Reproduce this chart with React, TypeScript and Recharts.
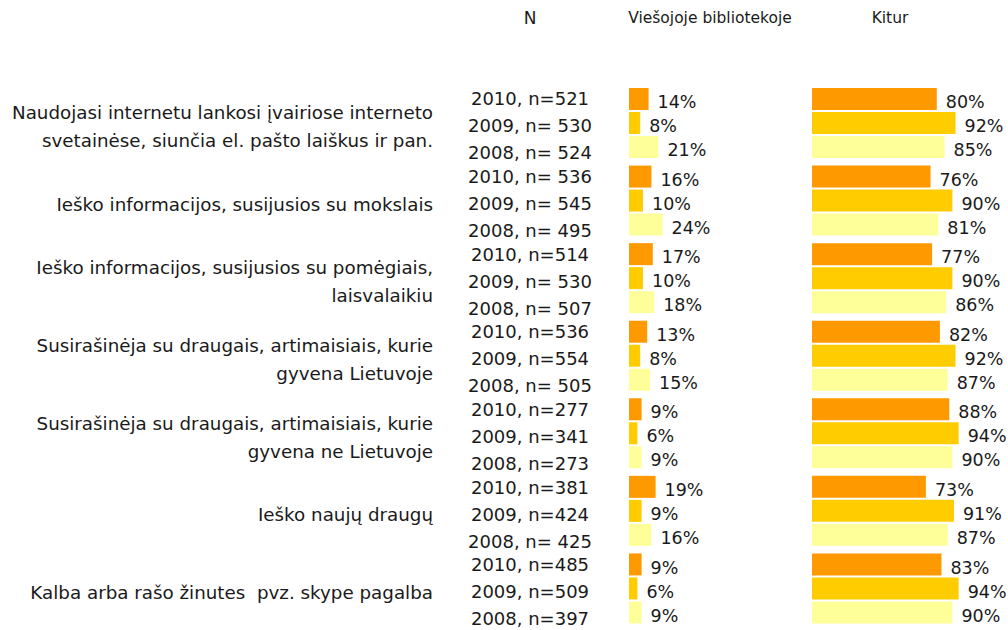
import { BarChart, Bar, XAxis, YAxis, LabelList } from "recharts";

// categories (top to bottom)
const categories = [
    "Naudojasi internetu lankosi įvairiose interneto\nsvetainėse, siunčia el. pašto laiškus ir pan.",
    "Ieško informacijos, susijusios su mokslais",
    "Ieško informacijos, susijusios su pomėgiais,\nlaisvalaikiu",
    "Susirašinėja su draugais, artimaisiais, kurie\ngyvena Lietuvoje",
    "Susirašinėja su draugais, artimaisiais, kurie\ngyvena ne Lietuvoje",
    "Ieško naujų draugų",
    "Kalba arba rašo žinutes  pvz. skype pagalba",
];

// sample sizes, per category: 2010, 2009, 2008
const nLabels = [
    ["2010, n=521", "2009, n= 530", "2008, n= 524"],
    ["2010, n= 536", "2009, n= 545", "2008, n= 495"],
    ["2010, n=514", "2009, n= 530", "2008, n= 507"],
    ["2010, n=536", "2009, n=554", "2008, n= 505"],
    ["2010, n=277", "2009, n=341", "2008, n=273"],
    ["2010, n=381", "2009, n=424", "2008, n= 425"],
    ["2010, n=485", "2009, n=509", "2008, n=397"],
];

// Viešojoje bibliotekoje (%)
const lib2010 = [14, 16, 17, 13, 9, 19, 9];
const lib2009 = [8, 10, 10, 8, 6, 9, 6];
const lib2008 = [21, 24, 18, 15, 9, 16, 9];

// Kitur (%)
const kit2010 = [80, 76, 77, 82, 88, 73, 83];
const kit2009 = [92, 90, 90, 92, 94, 91, 94];
const kit2008 = [85, 81, 86, 87, 90, 87, 90];

const headers = { n: "N", lib: "Viešojoje bibliotekoje", kit: "Kitur" };

const data = categories.map((cat, i) => ({
    cat,
    lib2010: lib2010[i],
    lib2009: lib2009[i],
    lib2008: lib2008[i],
    kit2010: kit2010[i],
    kit2009: kit2009[i],
    kit2008: kit2008[i],
}));

const FONT = "'DejaVu Sans', Verdana, sans-serif";
const TEXT = "#1a1a1a";
const C2010 = "#FF9900";
const C2009 = "#FFCC00";
const C2008 = "#FFFF99";

const MARGIN = { top: 84, bottom: 3, left: 0, right: 0 };
const BAR = 22;

const labelStyle = { fontSize: 17.5, fill: TEXT, fontFamily: FONT };
const pct = (v: any) => `${v}%`;

function LeftTick(props: any) {
    const { y, index } = props;
    const lines = categories[index].split("\n");
    const lh = 28;
    const startY = y + 4 - ((lines.length - 1) * lh) / 2;
    return (
        <g>
            {lines.map((l, k) => (
                <text key={k} x={433} y={startY + k * lh} textAnchor="end" dominantBaseline="central"
                    fontSize={18.3} fill={TEXT} fontFamily={FONT} style={{ whiteSpace: "pre" }}>
                    {l}
                </text>
            ))}
            {nLabels[index].map((l, j) => (
                <text key={"n" + j} x={530} y={y - 24 + 0.1 * index + 27 * j} textAnchor="middle"
                    dominantBaseline="central" fontSize={18} fill={TEXT} fontFamily={FONT}
                    style={{ whiteSpace: "pre" }}>
                    {l}
                </text>
            ))}
        </g>
    );
}

function Bars({ prefix }: { prefix: string }) {
    return (
        <>
            <Bar dataKey={prefix + "2010"} fill={C2010} barSize={BAR} isAnimationActive={false}>
                <LabelList dataKey={prefix + "2010"} position="right" offset={9} formatter={pct} style={labelStyle} dy={3} />
            </Bar>
            <Bar dataKey={prefix + "2009"} fill={C2009} barSize={BAR} isAnimationActive={false}>
                <LabelList dataKey={prefix + "2009"} position="right" offset={9} formatter={pct} style={labelStyle} dy={3} />
            </Bar>
            <Bar dataKey={prefix + "2008"} fill={C2008} barSize={BAR} isAnimationActive={false}>
                <LabelList dataKey={prefix + "2008"} position="right" offset={9} formatter={pct} style={labelStyle} dy={3} />
            </Bar>
        </>
    );
}

const headStyle: any = {
    position: "absolute",
    top: 9,
    fontFamily: FONT,
    fontSize: 15.5,
    color: TEXT,
    transform: "translateX(-50%)",
    whiteSpace: "nowrap",
};

export default function App() {
    return (
        <div style={{ position: "absolute", left: 0, top: 0, width: 1008, height: 630, background: "#fff" }}>
            <div style={{ ...headStyle, left: 530, fontSize: 17, top: 8 }}>{headers.n}</div>
            <div style={{ ...headStyle, left: 710 }}>{headers.lib}</div>
            <div style={{ ...headStyle, left: 890 }}>{headers.kit}</div>

            <div style={{ position: "absolute", left: 0, top: 0 }}>
                <BarChart width={800} height={630} data={data} layout="vertical" margin={{ ...MARGIN, right: 31 }}
                    barGap={2} barCategoryGap={4}>
                    <XAxis type="number" domain={[0, 100]} hide />
                    <YAxis type="category" dataKey="cat" width={629} axisLine={false} tickLine={false}
                        tick={<LeftTick />} interval={0} />
                    {Bars({ prefix: "lib" })}
                </BarChart>
            </div>

            <div style={{ position: "absolute", left: 812, top: 0 }}>
                <BarChart width={196} height={630} data={data} layout="vertical" margin={{ ...MARGIN, right: 40 }}
                    barGap={2} barCategoryGap={4}>
                    <XAxis type="number" domain={[0, 100]} hide />
                    <YAxis type="category" dataKey="cat" hide />
                    {Bars({ prefix: "kit" })}
                </BarChart>
            </div>
        </div>
    );
}
